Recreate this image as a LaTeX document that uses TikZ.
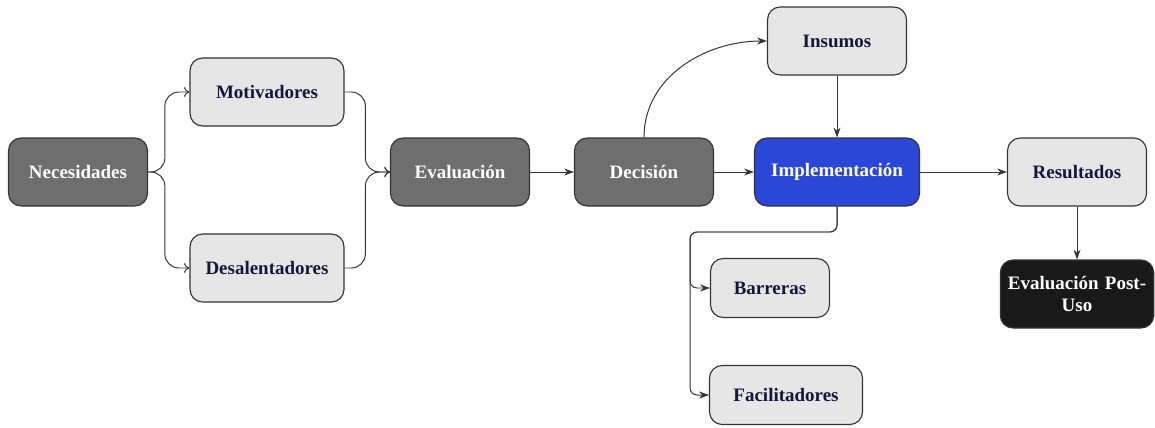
\documentclass[tikz,border=0pt]{standalone}
\usepackage{fontspec}
\setmainfont{Liberation Serif}
\usetikzlibrary{arrows.meta}

\definecolor{darkbox}{HTML}{6E6E6E}
\definecolor{lightbox}{HTML}{E6E6E6}
\definecolor{bluebox}{HTML}{2B47D8}
\definecolor{navytext}{HTML}{16163C}
\definecolor{edgeline}{HTML}{333333}

\tikzset{
  box/.style={draw=edgeline, line width=0.8pt, rounded corners=9pt,
    minimum width=3.475cm, minimum height=1.7cm,
    font=\fontsize{13.5}{15}\selectfont\bfseries, align=center},
  dark/.style={box, fill=darkbox, text=white},
  light/.style={box, fill=lightbox, text=navytext},
  conn/.style={draw=edgeline, line width=0.7pt, -{Stealth[length=7pt,width=5pt]}},
  thin conn/.style={draw=edgeline, line width=0.7pt, -{To[length=4pt,width=7pt]}, rounded corners=10pt}
}

\begin{document}
\begin{tikzpicture}
      \useasboundingbox (0,0) rectangle (28.875,-10.675);
      % main row
      \node[dark] (nec) at (1.95,-4.3) {Necesidades};
      \node[light, minimum width=3.85cm] (mot) at (6.675,-2.3) {Motivadores};
      \node[light, minimum width=3.85cm] (des) at (6.675,-6.7) {Desalentadores};
      \node[dark] (eva) at (11.5,-4.3) {Evaluación};
      \node[dark] (dec) at (16.1,-4.3) {Decisión};
      \node[box, fill=bluebox, text=white, minimum width=4.125cm] (imp) at (20.925,-4.3) {Implementación};
      \node[light] (ins) at (20.925,-1.025) {Insumos};
      \node[light] (res) at (26.925,-4.3) {Resultados};
      \node[box, fill=black!90, text=white, minimum width=3.75cm, text width=3.6cm] (post) at (26.925,-7.35) {Evaluación Post-\\Uso};
      \node[light, minimum width=2.975cm, minimum height=1.475cm] (bar) at (19.25,-7.2) {Barreras};
      \node[light, minimum width=3.825cm, minimum height=1.475cm] (fac) at (19.65,-9.875) {Facilitadores};
      \coordinate (split) at (17.25,-5.8);

      \draw[thin conn] (nec.east) -- ++(0.42,0) |- (mot.west);
      \draw[thin conn] (nec.east) -- ++(0.42,0) |- (des.west);
      \draw[thin conn] (mot.east) -- ++(0.52,0) |- (eva.west);
      \draw[thin conn] (des.east) -- ++(0.52,0) |- (eva.west);
      \draw[conn] (eva) -- (dec);
      \draw[conn] (dec) -- (imp);
      \draw[conn] (dec.north) to[out=90,in=180] (ins.west);
      \draw[conn] (ins) -- (imp);
      \draw[conn] (imp) -- (res);
      \draw[conn] (res) -- (post);
      \draw[conn, rounded corners=5pt] (imp.south) |- (split) |- (bar.west);
      \draw[conn, rounded corners=5pt] (imp.south) |- (split) |- (fac.west);
    \end{tikzpicture}
\end{document}
